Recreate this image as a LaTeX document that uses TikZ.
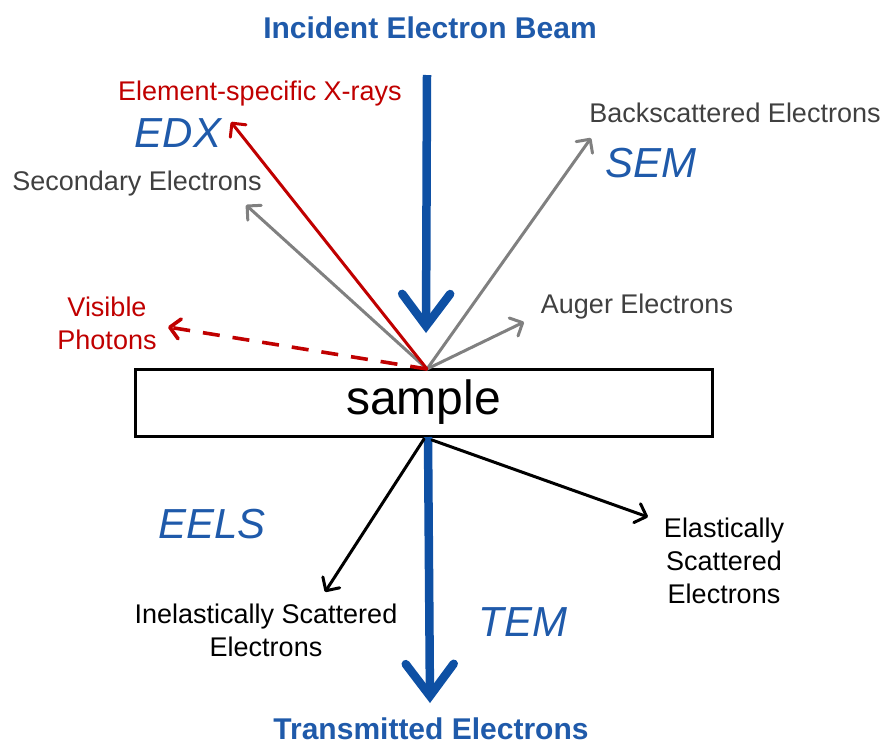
\documentclass[tikz,border=0pt]{standalone}
\usepackage{fontspec}
\setmainfont{Liberation Sans}
\usetikzlibrary{arrows.meta}
\definecolor{beamblue}{RGB}{14,80,164}
\definecolor{txtblue}{RGB}{31,90,170}
\definecolor{xred}{RGB}{192,0,0}
\definecolor{agray}{RGB}{128,128,128}
\definecolor{tgray}{RGB}{64,64,64}
\tikzset{
  bigarrow/.style={line width=8.5pt, draw=beamblue, -{Straight Barb[length=32pt,width=48pt,line cap=round,line join=miter]}},
  thinarrow/.style={line width=3pt, line cap=round, -{Straight Barb[length=10pt,width=20pt,round]}},
  title/.style={font=\fontsize{30}{34}\selectfont\bfseries, text=txtblue, inner sep=0pt},
  lbl/.style={font=\fontsize{27}{33}\selectfont, inner sep=0pt, align=center},
  method/.style={font=\fontsize{42}{46}\selectfont\itshape, text=txtblue, inner sep=0pt},
}
\begin{document}
\begin{tikzpicture}[x=1pt,y=-1pt]
\useasboundingbox (0,0) rectangle (885,745);
% sample
\node[draw=black, line width=3pt, minimum width=577pt, minimum height=67pt, inner sep=0pt,
      font=\fontsize{48}{52}\selectfont] (sample) at (423.5,402.5) {sample};
\coordinate (hit) at (427,369);
\coordinate (exitL) at (424,439);
\coordinate (exitR) at (432,440);
\coordinate (exitM) at (428,437);
% titles
\node[title] (incident) at (430,28) {Incident Electron Beam};
\node[title] (transmitted) at (431,729) {Transmitted Electrons};
% beam arrows
\coordinate (beamtop) at (427,75);
\coordinate (beamtip) at (426,333);
\coordinate (transtip) at (430,703);
\draw[bigarrow] (beamtop) -- (beamtip);
\draw[bigarrow] (exitM) -- (transtip);
% tips
\coordinate (edxtip) at (231,122);
\coordinate (sectip) at (246,205);
\coordinate (bsetip) at (591,138);
\coordinate (augtip) at (524,322);
\coordinate (phtip) at (168,327);
\coordinate (inltip) at (325,592);
\coordinate (eltip) at (648,517);
% top arrows
\draw[thinarrow, draw=agray] (hit) -- (sectip);
\draw[thinarrow, draw=agray] (hit) -- (bsetip);
\draw[thinarrow, draw=agray] (hit) -- (augtip);
\draw[thinarrow, draw=xred] (hit) -- (edxtip);
\draw[thinarrow, draw=xred, line width=3.6pt, dash pattern=on 17pt off 13pt, line cap=butt] (hit) -- (phtip);
% bottom arrows
\draw[thinarrow, draw=black] (exitL) -- (inltip);
\draw[thinarrow, draw=black] (exitR) -- (eltip);
% labels
\node[lbl, text=xred] (xrays) at (260,94) {Element-specific X-rays};
\node[method] (edx) at (178,133) {EDX};
\node[lbl, text=tgray] (secondary) at (137,184) {Secondary Electrons};
\node[lbl, text=tgray] (backsc) at (735,113) {Backscattered Electrons};
\node[method] (sem) at (651,163) {SEM};
\node[lbl, text=xred] (photons) at (107,323) {Visible\\Photons};
\node[lbl, text=tgray] (auger) at (637,307) {Auger Electrons};
\node[method] (eels) at (212,524) {EELS};
\node[lbl, text=black] (elastic) at (724,561) {Elastically\\Scattered\\Electrons};
\node[lbl, text=black] (inelastic) at (266,630) {Inelastically Scattered\\Electrons};
\node[method] (tem) at (523,622) {TEM};
\end{tikzpicture}
\end{document}
